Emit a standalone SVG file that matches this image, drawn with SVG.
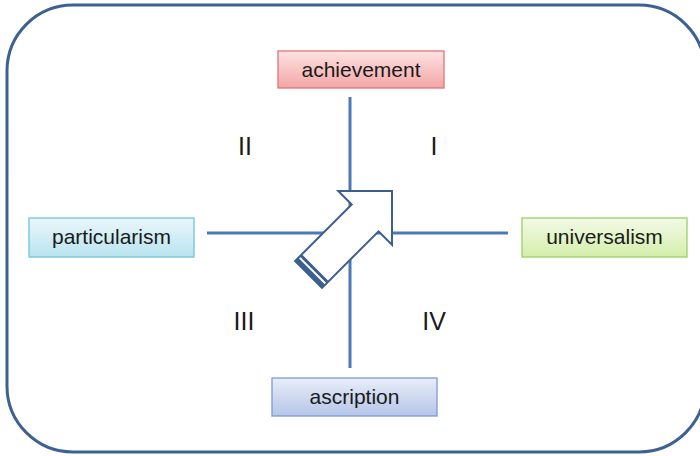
<svg xmlns="http://www.w3.org/2000/svg" width="700" height="456" viewBox="0 0 700 456">
<defs>
<linearGradient id="gRed" x1="0" y1="0" x2="0" y2="1"><stop offset="0" stop-color="#fde3e3"/><stop offset="1" stop-color="#f4a5a5"/></linearGradient>
<linearGradient id="gCyan" x1="0" y1="0" x2="0" y2="1"><stop offset="0" stop-color="#eaf7fb"/><stop offset="1" stop-color="#b9e3ef"/></linearGradient>
<linearGradient id="gGreen" x1="0" y1="0" x2="0" y2="1"><stop offset="0" stop-color="#f3fae8"/><stop offset="1" stop-color="#d3eeaa"/></linearGradient>
<linearGradient id="gBlue" x1="0" y1="0" x2="0" y2="1"><stop offset="0" stop-color="#e8edf8"/><stop offset="1" stop-color="#b5c5e9"/></linearGradient>
</defs>
<style>
.frame{fill:none;stroke:#3d6190;stroke-width:3}
.axis{stroke:#4a7bb6;stroke-width:3;fill:none}
.box{stroke-width:1.3}
.lbl{font-family:"Liberation Sans",Arial,sans-serif;font-size:21px;fill:#1a1a1a;text-anchor:middle}
.num{font-family:"Liberation Sans",Arial,sans-serif;font-size:25px;fill:#1a1a1a;text-anchor:middle}
.arrow{fill:#ffffff;stroke:#3d5f8c;stroke-width:2;stroke-linejoin:miter}
.stripe{fill:#3d5f8c}
</style>
<rect class="frame" x="7" y="5" width="698" height="447" rx="66" ry="66"/>
<g id="connectors">
<line class="axis" x1="350" y1="97" x2="350" y2="368"/>
<line class="axis" x1="207" y1="233" x2="508" y2="233"/>
</g>
<g id="arrow" transform="translate(392,191) rotate(-45)">
<polygon class="arrow" points="0,0 -38,-38 -38,-19 -118,-19 -118,19 -38,19 -38,38"/>
<rect class="stripe" x="-118" y="-19" width="4.5" height="38"/>
<rect class="stripe" x="-111.5" y="-19" width="3" height="38"/>
</g>
<g id="achievement">
<rect class="box" x="278" y="51" width="166" height="37" fill="url(#gRed)" stroke="#e07575"/>
<text class="lbl" x="361" y="77">achievement</text>
</g>
<g id="particularism">
<rect class="box" x="29" y="218" width="165" height="39" fill="url(#gCyan)" stroke="#6fc4dc"/>
<text class="lbl" x="111.5" y="244">particularism</text>
</g>
<g id="universalism">
<rect class="box" x="522" y="218" width="165" height="39" fill="url(#gGreen)" stroke="#9ccf62"/>
<text class="lbl" x="604.5" y="244">universalism</text>
</g>
<g id="ascription">
<rect class="box" x="272" y="378" width="165" height="38" fill="url(#gBlue)" stroke="#7d9ad4"/>
<text class="lbl" x="354.5" y="404">ascription</text>
</g>
<g id="quadrants">
<text class="num" x="245" y="155">II</text>
<text class="num" x="434" y="155">I</text>
<text class="num" x="244" y="330">III</text>
<text class="num" x="434" y="330">IV</text>
</g>
</svg>
